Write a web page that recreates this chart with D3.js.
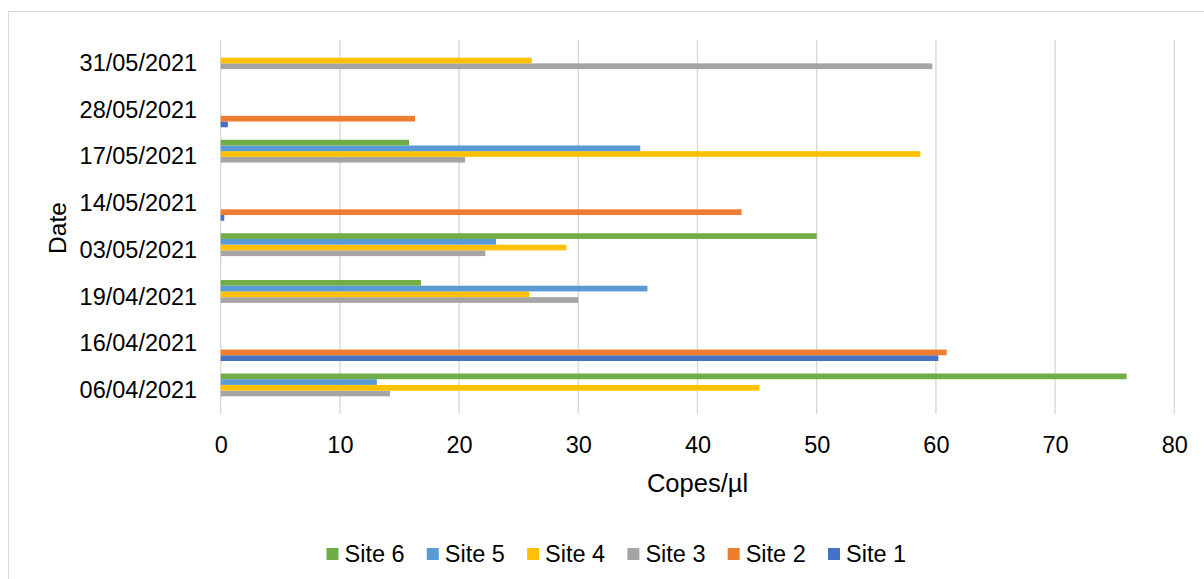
<!DOCTYPE html>
<html>
<head>
<meta charset="utf-8">
<script src="https://cdn.jsdelivr.net/npm/d3@7"></script>
<style>
  html, body { margin: 0; padding: 0; background: #fff; }
  svg { display: block; font-family: "Liberation Sans", Arial, sans-serif; }
</style>
</head>
<body>
<svg id="chart" width="1204" height="579"></svg>
<script>
// Sampling dates, listed from the bottom of the chart to the top
const dates = ["06/04/2021", "16/04/2021", "19/04/2021", "03/05/2021",
               "14/05/2021", "17/05/2021", "28/05/2021", "31/05/2021"];

// Copies per microlitre for each site (null = no measurement)
const site1 = [null, 60.2, null, null, 0.3, null, 0.6, null];
const site2 = [null, 60.9, null, null, 43.7, null, 16.3, null];
const site3 = [14.2, null, 30.0, 22.2, null, 20.5, null, 59.7];
const site4 = [45.2, null, 25.9, 29.0, null, 58.7, null, 26.1];
const site5 = [13.1, null, 35.8, 23.1, null, 35.2, null, null];
const site6 = [76.0, null, 16.8, 50.0, null, 15.8, null, null];

const siteNames = ["Site 1", "Site 2", "Site 3", "Site 4", "Site 5", "Site 6"];
const siteColors = ["#4472C4", "#ED7D31", "#A5A5A5", "#FFC000", "#5B9BD5", "#70AD47"];
const xTicks = [0, 10, 20, 30, 40, 50, 60, 70, 80];

const series = [site1, site2, site3, site4, site5, site6].map((vals, i) => ({
  name: siteNames[i], color: siteColors[i], values: vals
}));

const svg = d3.select("#chart");

// Chart area frame
svg.append("rect")
  .attr("x", 8.5).attr("y", 11.5)
  .attr("width", 1220).attr("height", 600)
  .attr("fill", "none").attr("stroke", "#d9d9d9").attr("stroke-width", 1);

const plot = { left: 220.7, right: 1174.3, top: 40, bottom: 414 };

const x = d3.scaleLinear().domain([0, 80]).range([plot.left, plot.right]);

// Categories: first date at the bottom
const y = d3.scaleBand().domain(dates)
  .range([plot.bottom, plot.top]).paddingInner(0).paddingOuter(0);

// Bars within a date: Site 1 lowest, Site 6 highest; 219% gap width
const ySub = d3.scaleBand().domain(siteNames)
  .range([y.bandwidth(), 0]).paddingInner(0).paddingOuter(1.095);

// Vertical gridlines
svg.append("g").selectAll("line").data(xTicks).join("line")
  .attr("x1", d => x(d)).attr("x2", d => x(d))
  .attr("y1", plot.top).attr("y2", plot.bottom)
  .attr("stroke", "#d9d9d9").attr("stroke-width", 1.4);

// Bars
const groups = svg.append("g").selectAll("g").data(series).join("g")
  .attr("fill", d => d.color);
groups.selectAll("rect")
  .data(s => s.values.map((v, i) => ({ date: dates[i], value: v, site: s.name }))
                     .filter(d => d.value !== null))
  .join("rect")
  .attr("x", x(0))
  .attr("y", d => y(d.date) + ySub(d.site))
  .attr("width", d => x(d.value) - x(0))
  .attr("height", ySub.bandwidth());

// X axis tick labels
const xAxis = d3.axisBottom(x).tickValues(xTicks).tickSize(0).tickPadding(0);
const gx = svg.append("g").attr("transform", `translate(0,${plot.bottom})`).call(xAxis);
gx.select(".domain").remove();
gx.selectAll("text")
  .attr("dy", null).attr("y", 38.5)
  .attr("font-size", 23.5).attr("fill", "#000")
  .attr("font-family", "Liberation Sans, Arial, sans-serif");

// Y axis category labels
const yAxis = d3.axisLeft(y).tickSize(0).tickPadding(23.5);
const gy = svg.append("g").attr("transform", `translate(${plot.left},0)`).call(yAxis);
gy.select(".domain").remove();
gy.selectAll("text")
  .attr("font-size", 23.5).attr("fill", "#000")
  .attr("font-family", "Liberation Sans, Arial, sans-serif");

// Axis titles
svg.append("text")
  .attr("x", (plot.left + plot.right) / 2).attr("y", 492)
  .attr("text-anchor", "middle").attr("font-size", 25.5).attr("fill", "#000")
  .text("Copes/µl");

svg.append("text")
  .attr("transform", "translate(66,228) rotate(-90)")
  .attr("text-anchor", "middle").attr("font-size", 24.5).attr("fill", "#000")
  .text("Date");

// Legend, Site 6 first
const legendItems = series.slice().reverse();
const legend = svg.append("g").selectAll("g").data(legendItems).join("g")
  .attr("transform", (d, i) => `translate(${326.5 + i * 100.3},548)`);
legend.append("rect")
  .attr("width", 12).attr("height", 12)
  .attr("fill", d => d.color);
legend.append("text")
  .attr("x", 18).attr("y", 14)
  .attr("font-size", 23.5).attr("fill", "#000")
  .text(d => d.name);
</script>
</body>
</html>
